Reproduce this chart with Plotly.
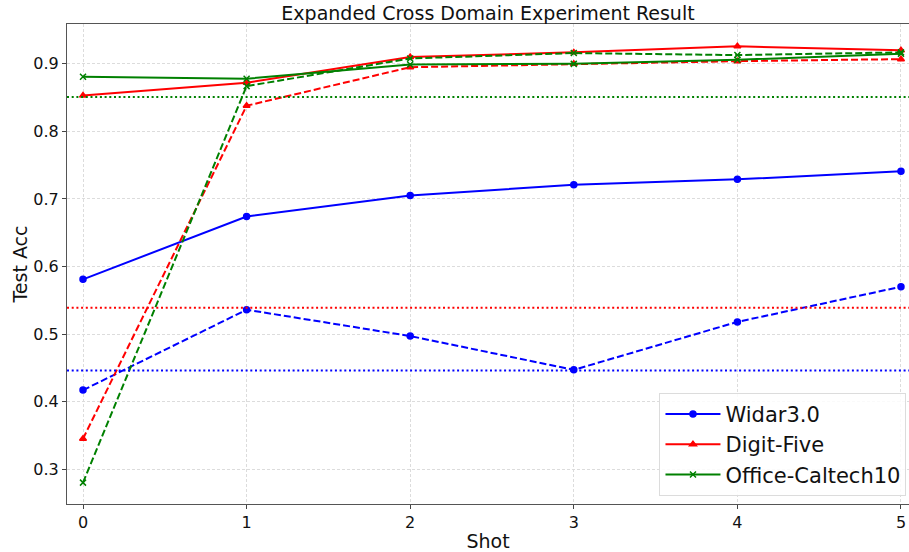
import plotly.graph_objects as go

shots = [0, 1, 2, 3, 4, 5]
widar_solid = [0.581, 0.674, 0.705, 0.721, 0.729, 0.741]
widar_dash = [0.417, 0.536, 0.497, 0.447, 0.518, 0.570]
digit_solid = [0.853, 0.872, 0.910, 0.917, 0.926, 0.920]
digit_dash = [0.345, 0.838, 0.895, 0.900, 0.904, 0.907]
office_solid = [0.881, 0.878, 0.899, 0.900, 0.906, 0.915]
office_dash = [0.280, 0.867, 0.908, 0.916, 0.913, 0.917]
baselines = {"blue": 0.446, "red": 0.539, "green": 0.851}
y_ticks = [0.3, 0.4, 0.5, 0.6, 0.7, 0.8, 0.9]

fig = go.Figure()

series = [
    ("Widar3.0", "blue", "circle", widar_solid, widar_dash),
    ("Digit-Five", "red", "triangle-up", digit_solid, digit_dash),
    ("Office-Caltech10", "green", "x-thin", office_solid, office_dash),
]

for name, color, sym, solid, dash in series:
    mk = dict(symbol=sym, size=6, color=color, line=dict(color=color, width=1.5))
    fig.add_trace(go.Scatter(x=shots, y=solid, mode="lines+markers", name=name,
                             line=dict(color=color, width=2), marker=mk, showlegend=True))
    fig.add_trace(go.Scatter(x=shots, y=dash, mode="lines+markers", name=name + " (dashed)",
                             line=dict(color=color, width=2, dash="7px,3px"), marker=mk,
                             showlegend=False))

for color, val in baselines.items():
    fig.add_shape(type="line", xref="paper", x0=0, x1=1, yref="y", y0=val, y1=val,
                  line=dict(color=color, width=2, dash="2px,2.7px"), layer="above")

fig.update_layout(
    width=909, height=552,
    margin=dict(l=67, r=0, t=24, b=46),
    paper_bgcolor="white", plot_bgcolor="white",
    font=dict(family="DejaVu Sans", size=16, color="#111"),
    title=dict(text="Expanded Cross Domain Experiment Result", x=0.5, xanchor="center",
               xref="paper", y=1 - 13 / 552, yanchor="middle", font=dict(size=19)),
    legend=dict(x=0.997, xanchor="right", y=0.017, yanchor="bottom",
                font=dict(size=21), bgcolor="rgba(255,255,255,0.85)",
                bordercolor="#dcdcdc", borderwidth=1, tracegroupgap=0, itemwidth=55),
    showlegend=True,
)
fig.update_xaxes(range=[-0.0978, 5.049], tickvals=shots, ticks="outside", ticklen=4,
                 tickcolor="#444",
                 showgrid=True, gridcolor="#dcdcdc", griddash="3px,2px", gridwidth=0.8,
                 showline=True, linecolor="#555", linewidth=1.2, mirror=True, zeroline=False,
                 title=dict(text="Shot", font=dict(size=19), standoff=6))
fig.update_yaxes(range=[0.2484, 0.959], tickvals=y_ticks, ticks="outside", ticklen=4,
                 tickcolor="#444",
                 showgrid=True, gridcolor="#dcdcdc", griddash="3px,2px", gridwidth=0.8,
                 showline=True, linecolor="#555", linewidth=1.2, mirror=False, zeroline=False,
                 title=dict(text="Test Acc", font=dict(size=19), standoff=0))

fig.write_html("out.html", config={"displayModeBar": False},
               post_script="document.body.style.margin='0px';")
